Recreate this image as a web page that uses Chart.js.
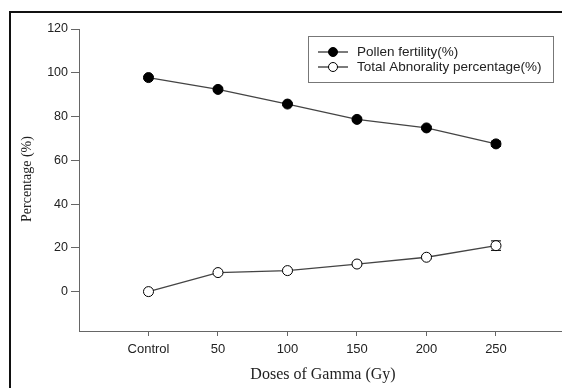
<!DOCTYPE html>
<html>
<head>
<meta charset="utf-8">
<script src="https://cdn.jsdelivr.net/npm/chart.js@4/dist/chart.umd.min.js"></script>
<style>
  html, body { margin: 0; padding: 0; background: #fff; }
  #wrap { position: relative; width: 562px; height: 388px; }
</style>
</head>
<body>
<div id="wrap"><canvas id="doseChart" width="562" height="388"></canvas></div>
<script>
const doses = [0, 50, 100, 150, 200, 250];
const doseLabels = ["Control", "50", "100", "150", "200", "250"];
const pollenFertility = [97.8, 92.4, 85.7, 78.7, 74.8, 67.5];
const pollenErr = [0.5, 0.7, 0.6, 0.6, 0.7, 1.2];
const abnormality = [0, 8.7, 9.6, 12.6, 15.7, 21.0];
const abnormalityErr = [0, 0.5, 0.5, 0.6, 0.6, 2.2];
const yTicks = [0, 20, 40, 60, 80, 100, 120];
const legendNames = ["Pollen fertility(%)", "Total Abnorality percentage(%)"];

const toPoints = (vals) => doses.map((d, i) => ({ x: d, y: vals[i] }));

// frame + titles + legend + error caps
const decor = {
  id: 'decor',
  beforeDraw(chart) {
    const c = chart.ctx;
    c.save();
    c.fillStyle = '#fff';
    c.fillRect(0, 0, chart.width, chart.height);
    c.strokeStyle = '#111';
    c.lineWidth = 2;
    c.beginPath();
    c.moveTo(10, 388);
    c.lineTo(10, 12);
    c.lineTo(562, 12);
    c.stroke();
    c.restore();
  },
  beforeDatasetsDraw(chart) {
    // error bars sit under the markers
    const c = chart.ctx;
    const xs = chart.scales.x, ys = chart.scales.y;
    c.save();
    c.strokeStyle = '#222';
    c.lineWidth = 1.2;
    [[pollenFertility, pollenErr], [abnormality, abnormalityErr]].forEach(([vals, errs]) => {
      vals.forEach((v, i) => {
        if (!errs[i]) return;
        const px = xs.getPixelForValue(doses[i]);
        const top = ys.getPixelForValue(v + errs[i]);
        const bot = ys.getPixelForValue(v - errs[i]);
        c.beginPath();
        c.moveTo(px - 5, top); c.lineTo(px + 5, top);
        c.moveTo(px - 5, bot); c.lineTo(px + 5, bot);
        c.moveTo(px, top); c.lineTo(px, bot);
        c.stroke();
      });
    });
    c.restore();
  },
  afterDraw(chart) {
    const c = chart.ctx;
    c.save();
    // axis titles
    c.fillStyle = '#222';
    c.font = '16px "Liberation Serif", "Times New Roman", serif';
    c.textAlign = 'center';
    c.textBaseline = 'middle';
    c.fillText('Doses of Gamma (Gy)', 323, 375);
    c.translate(27, 179);
    c.rotate(-Math.PI / 2);
    c.font = '14px "Liberation Serif", "Times New Roman", serif';
    c.fillText('Percentage (%)', 0, 0);
    c.restore();

    // legend box
    c.save();
    c.strokeStyle = '#777';
    c.lineWidth = 1;
    c.strokeRect(308.5, 36.5, 245, 46);
    const rows = [52, 67];
    rows.forEach((y, i) => {
      c.strokeStyle = '#333';
      c.lineWidth = 1.3;
      c.beginPath();
      c.moveTo(318, y); c.lineTo(348, y);
      c.stroke();
      c.beginPath();
      c.arc(333, y, 4.5, 0, Math.PI * 2);
      c.fillStyle = i === 0 ? '#000' : '#fff';
      c.fill();
      c.strokeStyle = '#000';
      c.lineWidth = 1;
      c.stroke();
      c.fillStyle = '#222';
      c.font = '13.5px "Liberation Sans", Arial, sans-serif';
      c.textAlign = 'left';
      c.textBaseline = 'middle';
      c.fillText(legendNames[i], 357, y);
    });
    c.restore();
  }
};

const ctx = document.getElementById('doseChart').getContext('2d');
const doseChart = new Chart(ctx, {
  type: 'line',
  data: {
    datasets: [{
      label: legendNames[0],
      data: toPoints(pollenFertility),
      borderColor: '#444',
      borderWidth: 1.3,
      pointRadius: 5,
      pointBackgroundColor: '#000',
      pointBorderColor: '#000',
      pointBorderWidth: 1,
      tension: 0
    }, {
      label: legendNames[1],
      data: toPoints(abnormality),
      borderColor: '#444',
      borderWidth: 1.3,
      pointRadius: 5,
      pointBackgroundColor: '#fff',
      pointBorderColor: '#000',
      pointBorderWidth: 1,
      tension: 0
    }]
  },
  options: {
    responsive: false,
    animation: false,
    events: [],
    layout: { autoPadding: false, padding: { top: 29, left: 0, right: 0, bottom: 0 } },
    plugins: { legend: { display: false }, tooltip: { enabled: false } },
    scales: {
      x: {
        type: 'linear',
        min: -50,
        max: 297.5,
        afterBuildTicks: (s) => { s.ticks = doses.map(v => ({ value: v })); },
        afterFit: (s) => { s.height = 57; s.paddingRight = 0; s.paddingLeft = 0; },
        border: { color: '#666', width: 1 },
        grid: { drawOnChartArea: false, drawTicks: true, tickLength: 5, color: '#666' },
        ticks: {
          color: '#222',
          padding: 6,
          maxRotation: 0,
          font: { family: '"Liberation Sans", Arial, sans-serif', size: 13 },
          callback: (v) => doseLabels[doses.indexOf(v)]
        }
      },
      y: {
        min: -18,
        max: 120,
        afterBuildTicks: (s) => { s.ticks = yTicks.map(v => ({ value: v })); },
        afterFit: (s) => { s.width = 79; s.paddingTop = 0; s.paddingBottom = 0; },
        border: { color: '#666', width: 1 },
        grid: { drawOnChartArea: false, drawTicks: true, tickLength: 8, color: '#666' },
        ticks: {
          color: '#222',
          padding: 3,
          font: { family: '"Liberation Sans", Arial, sans-serif', size: 12.5 }
        }
      }
    }
  },
  plugins: [decor]
});
</script>
</body>
</html>
